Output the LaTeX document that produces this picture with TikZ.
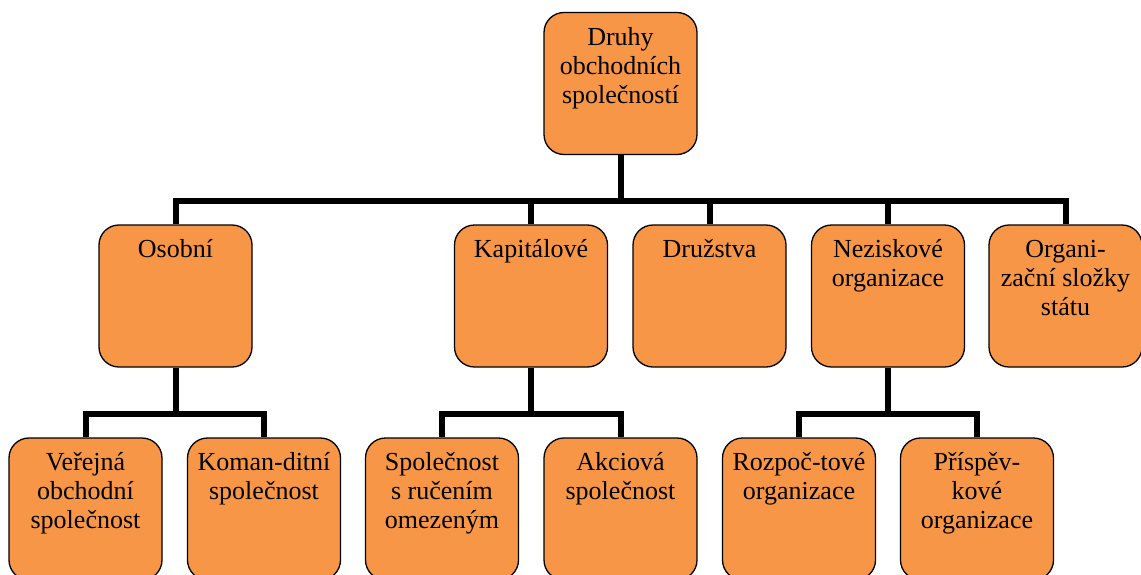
\documentclass[tikz,border=0pt]{standalone}
\usepackage{fontspec}
\setmainfont{Liberation Serif}
\definecolor{boxorange}{HTML}{F79646}
\tikzset{
  box/.style={draw=black, line width=1.3pt, fill=boxorange, rounded corners=20pt,
    minimum width=153pt, minimum height=142pt, inner sep=0pt},
  lbl/.style={anchor=north, align=center, inner sep=0pt,
    font=\fontsize{26}{29}\selectfont},
  conn/.style={draw=black, line width=6pt, line join=miter}
}
\begin{document}
\begin{tikzpicture}[x=1pt, y=-1pt]
\useasboundingbox (0,0) rectangle (1141,574);
\clip (0,0) rectangle (1141,574);
% boxes
\node[box] (root) at (620.5,83.5) {};
\node[box] (o) at (175.5,296) {};
\node[box] (k) at (531,296) {};
\node[box] (d) at (709.5,296) {};
\node[box] (n) at (888,296) {};
\node[box] (s) at (1065.5,296) {};
\node[box] (v) at (85.5,509) {};
\node[box] (km) at (264,509) {};
\node[box] (sr) at (442,509) {};
\node[box] (a) at (620.5,509) {};
\node[box] (r) at (799,509) {};
\node[box] (p) at (977,509) {};
% labels
\node[lbl] (root-t) at ([yshift=-12.7pt]root.north) {\strut Druhy\\obchodních\\společností};
\node[lbl] (o-t) at ([yshift=-12.7pt]o.north) {\strut Osobní};
\node[lbl] (k-t) at ([yshift=-12.7pt]k.north) {\strut Kapitálové};
\node[lbl] (d-t) at ([yshift=-12.7pt]d.north) {\strut Družstva};
\node[lbl] (n-t) at ([yshift=-12.7pt]n.north) {\strut Neziskové\\organizace};
\node[lbl] (s-t) at ([yshift=-12.7pt]s.north) {\strut Organi-\\zační složky\\státu};
\node[lbl] (v-t) at ([yshift=-12.7pt]v.north) {\strut Veřejná\\obchodní\\společnost};
\node[lbl] (km-t) at ([yshift=-12.7pt]km.north) {\strut Koman-ditní\\společnost};
\node[lbl] (sr-t) at ([yshift=-12.7pt]sr.north) {\strut Společnost\\s ručením\\omezeným};
\node[lbl] (a-t) at ([yshift=-12.7pt]a.north) {\strut Akciová\\společnost};
\node[lbl] (r-t) at ([yshift=-12.7pt]r.north) {\strut Rozpoč-tové\\organizace};
\node[lbl] (p-t) at ([yshift=-12.7pt]p.north) {\strut Příspěv-\\kové\\organizace};
% junction levels
\coordinate (j0) at (620.5,201);
\coordinate (j1) at (0,414);
% connectors
\foreach \c in {o,k,d,n,s}
  \draw[conn] (root.south) |- (j0 -| \c.north) -- (\c.north);
\foreach \c in {v,km}
  \draw[conn] (o.south) |- (j1 -| \c.north) -- (\c.north);
\foreach \c in {sr,a}
  \draw[conn] (k.south) |- (j1 -| \c.north) -- (\c.north);
\foreach \c in {r,p}
  \draw[conn] (n.south) |- (j1 -| \c.north) -- (\c.north);
\end{tikzpicture}
\end{document}
